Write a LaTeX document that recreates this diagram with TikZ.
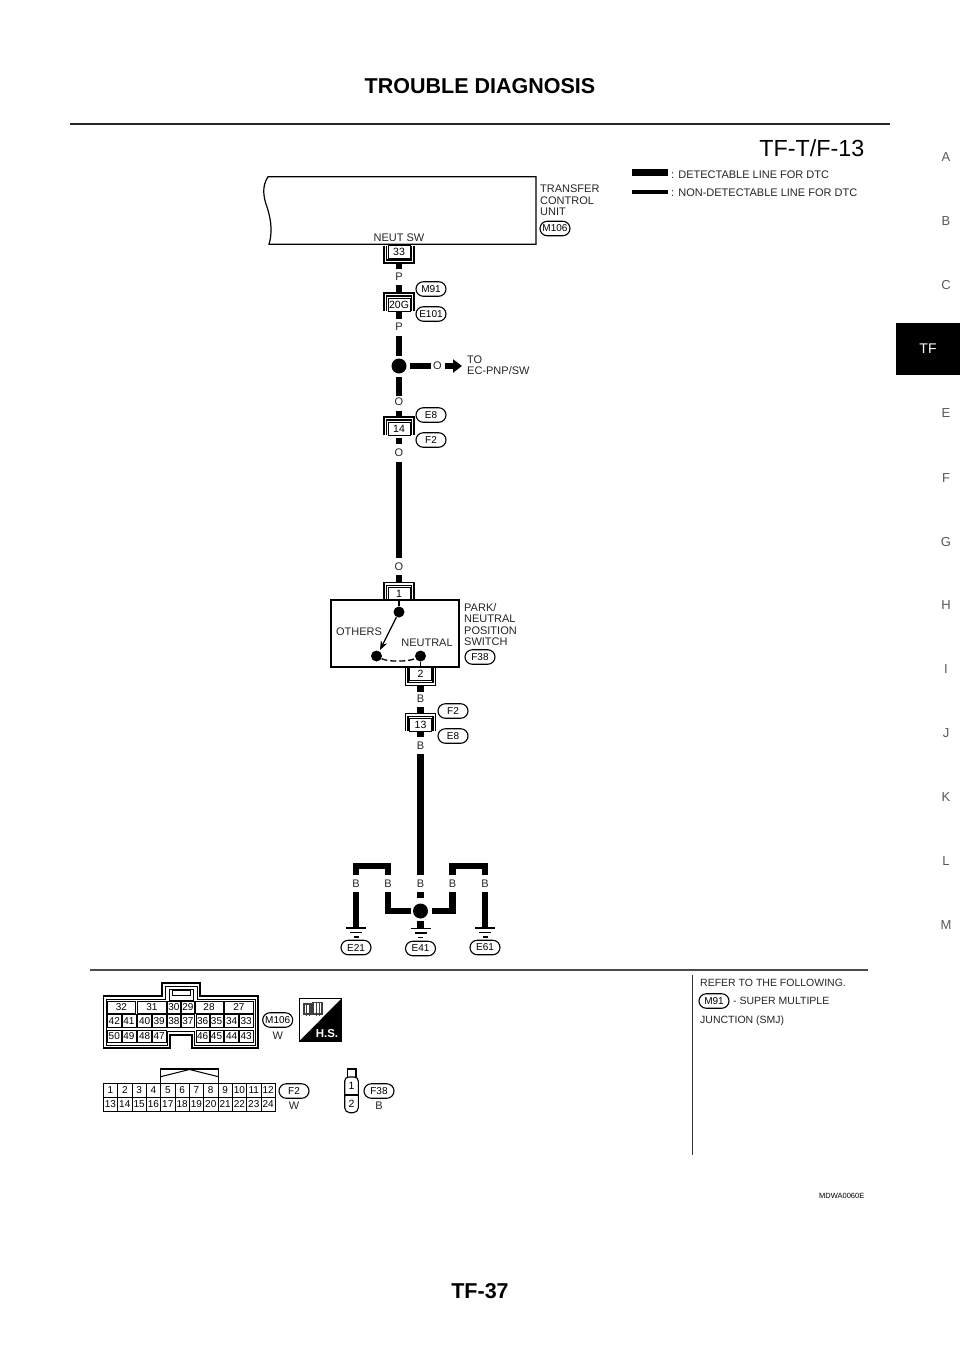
\documentclass[tikz,border=0pt]{standalone}
\usepackage{fontspec}
\setmainfont{Liberation Sans}
\usetikzlibrary{shapes.misc,arrows.meta,calc}
\tikzset{
  wire/.style={line width=6.5pt,line cap=butt,line join=miter},
  lbl/.style={font=\fontsize{11}{12}\selectfont,inner sep=0pt,text=black!85},
  ltxt/.style={lbl,anchor=west},
  pill/.style={rounded rectangle,draw,line width=1.1pt,minimum width=30pt,minimum height=14.5pt,inner sep=0pt,font=\fontsize{10}{11}\selectfont},
  cbox/.style={draw,line width=1pt,minimum width=22pt,minimum height=13pt,inner sep=0pt,font=\fontsize{10.5}{11}\selectfont},
  brk/.style={line width=1.1pt},
  dot/.style={circle,fill=black,inner sep=0pt,minimum size=#1},
  cell/.style={draw,line width=.8pt,inner sep=0pt,font=\fontsize{10}{11}\selectfont},
  tab/.style={font=\fontsize{13}{14}\selectfont,text=black!65,inner sep=0pt},
  gnd/.style={line width=1.3pt},
  rule/.style={line width=2pt,draw=black!70},
  note/.style={font=\fontsize{10.5}{12}\selectfont,anchor=west,inner sep=0pt,text=black!85}
}
% name, x, y, text: bracket opening upward (below the box)
\newcommand\connD[4]{%
  \node[cbox] (#1) at (#2,#3) {#4};
  \draw[brk] (#2-15,#3-6) -- (#2-15,#3+11.5) -- (#2+15,#3+11.5) -- (#2+15,#3-6);
  \draw[brk] (#2-12.5,#3-6) -- (#2-12.5,#3+8.5) -- (#2+12.5,#3+8.5) -- (#2+12.5,#3-6);
  \coordinate (#1b) at (#2,#3+11.5);
  \coordinate (#1t) at (#2,#3-6.5);}
% bracket on top of the box
\newcommand\connU[4]{%
  \node[cbox] (#1) at (#2,#3) {#4};
  \draw[brk] (#2-15,#3+6) -- (#2-15,#3-11.5) -- (#2+15,#3-11.5) -- (#2+15,#3+6);
  \draw[brk] (#2-12.5,#3+6) -- (#2-12.5,#3-8.5) -- (#2+12.5,#3-8.5) -- (#2+12.5,#3+6);
  \coordinate (#1t) at (#2,#3-11.5);
  \coordinate (#1b) at (#2,#3+6.5);}
% ground symbol below a named coordinate
\newcommand\groundat[1]{%
  \draw[gnd] ($(#1)+(-10,0)$) -- ($(#1)+(10,0)$);
  \draw[gnd] ($(#1)+(-6,4.5)$) -- ($(#1)+(6,4.5)$);
  \draw[gnd] ($(#1)+(-2.5,9)$) -- ($(#1)+(2.5,9)$);}
\newcommand\cellat[6]{% name x1 y1 x2 y2 text
  \pgfmathsetmacro\cw{#4-#2}\pgfmathsetmacro\ch{#5-#3}\pgfmathsetmacro\cx{(#2+#4)/2}\pgfmathsetmacro\cy{(#3+#5)/2}%
  \node[cell,minimum width=\cw pt,minimum height=\ch pt] (#1) at (\cx,\cy) {#6};}
\begin{document}
\begin{tikzpicture}[x=1pt,y=-1pt]
\useasboundingbox (0,0) rectangle (960,1358);
\fill[white] (0,0) rectangle (960,1358);
% header
\node[font=\fontsize{21.5}{24}\bfseries\selectfont,inner sep=0pt] (title) at (480,86) {TROUBLE DIAGNOSIS};
\coordinate (hl) at (70,124); \coordinate (hr) at (890,124);
\draw[line width=2.6pt,draw=black!85] (hl) -- (hr);
\node[font=\fontsize{23.3}{26}\selectfont,anchor=east,inner sep=0pt] (fig) at (864.5,148.5) {TF-T/F-13};
\node[font=\fontsize{21.5}{24}\bfseries\selectfont,inner sep=0pt] (page) at (480,1291) {TF-37};
\node[font=\fontsize{7.5}{9}\selectfont,anchor=east,inner sep=0pt] (code) at (864.5,1196) {MDWA0060E};
% side tabs
\node[tab] (tA) at (946,157) {A};
\node[tab] (tB) at (946,221) {B};
\node[tab] (tC) at (946,285) {C};
\fill[black] (896,323) rectangle (960,375);
\node[font=\fontsize{14}{15}\selectfont,text=white,inner sep=0pt] (tTF) at (928,349) {TF};
\node[tab] (tE) at (946,413) {E};
\node[tab] (tF) at (946,478) {F};
\node[tab] (tG) at (946,542) {G};
\node[tab] (tH) at (946,605) {H};
\node[tab] (tI) at (946,669) {I};
\node[tab] (tJ) at (946,733) {J};
\node[tab] (tK) at (946,797) {K};
\node[tab] (tL) at (946,861) {L};
\node[tab] (tM) at (946,925) {M};
% legend
\coordinate (la) at (632,172.5); \coordinate (lb) at (668,172.5);
\coordinate (lc) at (632,192); \coordinate (ld) at (668,192);
\draw[line width=6.5pt] (la) -- (lb);
\draw[line width=3.2pt] (lc) -- (ld);
\node[ltxt] (l1) at (671,174.5) {: DETECTABLE LINE FOR DTC};
\node[ltxt] (l2) at (671,192.5) {: NON-DETECTABLE LINE FOR DTC};
% TCU
\draw[line width=1.2pt] (536,176.7) -- (268,176.7) .. controls (262,186) and (263,196) .. (267,207) .. controls (272,222) and (272,234) .. (269,244.3) -- (536,244.3) -- cycle;
\node[ltxt] (t1) at (540,189) {TRANSFER};
\node[ltxt] (t2) at (540,200.5) {CONTROL};
\node[ltxt] (t3) at (540,212) {UNIT};
\node[pill] (pM106) at (555,228.5) {M106};
\node[lbl] (neut) at (399,237.5) {NEUT SW};
% connector 33
\connD{c33}{399}{251.5}{33}
\node[lbl] (lP1) at (399,277) {P};
\coordinate (a1) at (399,269);
\draw[wire] (c33b) -- (a1);
% 20G
\connU{c20}{399}{304.5}{20G}
\coordinate (a2) at (399,285);
\draw[wire] (a2) -- (c20t);
\node[pill] (pM91) at (431,289) {M91};
\node[pill] (pE101) at (431,314) {E101};
\coordinate (a3) at (399,319);
\draw[wire] (c20b) -- (a3);
\node[lbl] (lP2) at (399,327) {P};
% junction
\node[dot=15pt] (j1) at (399,366) {};
\coordinate (a4) at (399,336);
\coordinate (a5) at (399,356);
\draw[wire] (a4) -- (a5);
\coordinate (a6) at (399,377);
\coordinate (a7) at (399,396);
\draw[wire] (a6) -- (a7);
\coordinate (a8) at (410,366);
\coordinate (a9) at (431,366);
\draw[wire] (a8) -- (a9);
\node[lbl] (lO1) at (437.5,366) {O};
\coordinate (ar1) at (445,366);
\coordinate (ar2) at (462,366);
\draw[line width=5.5pt,-{Triangle[length=9pt,width=13pt]}] (ar1) -- (ar2);
\node[ltxt] (to1) at (467,360) {TO};
\node[ltxt] (to2) at (467,371) {EC-PNP/SW};
\node[lbl] (lO2) at (399,402) {O};
% 14
\connU{c14}{399}{428.5}{14}
\coordinate (a10) at (399,411);
\draw[wire] (a10) -- (c14t);
\node[pill] (pE8) at (431,415) {E8};
\node[pill] (pF2) at (431,440) {F2};
\coordinate (a11) at (399,444);
\draw[wire] ($(c14b)+(0,3)$) -- (a11);
\node[lbl] (lO3) at (399,453) {O};
\coordinate (a12) at (399,462);
\coordinate (a13) at (399,558);
\draw[wire] (a12) -- (a13);
\node[lbl] (lO4) at (399,567) {O};
% switch
\connU{c1}{399}{594}{1}
\coordinate (a14) at (399,575);
\draw[wire] (a14) -- (c1t);
\node[draw,line width=1.2pt,minimum width=128pt,minimum height=67pt,inner sep=0pt] (sw) at (395,633.5) {};
\node[dot=11pt] (s1) at (399,612) {};
\node[dot=11pt] (s2) at (376.5,656) {};
\node[dot=11pt] (s3) at (420.5,656) {};
\draw[line width=1.2pt] (sw.north -| s1) -- (s1);
\draw[line width=1.2pt] (s3) -- (s3 |- sw.south);
\draw[line width=1.2pt,-{Stealth[length=9pt,width=7pt]}] (s1) -- ($(s2)+(3.5,-6)$);
\draw[line width=1.3pt,dash pattern=on 6pt off 3pt] (s2) .. controls (388,662) and (408,662) .. (s3);
\node[lbl] (oth) at (359,632) {OTHERS};
\node[lbl] (neu) at (427,643) {NEUTRAL};
\node[ltxt] (p1) at (464,607.5) {PARK/};
\node[ltxt] (p2) at (464,619) {NEUTRAL};
\node[ltxt] (p3) at (464,630.5) {POSITION};
\node[ltxt] (p4) at (464,642) {SWITCH};
\node[pill] (pF38) at (480,657) {F38};
% 2
\connD{c2}{420.5}{674}{2}
\coordinate (b1) at (420.5,692);
\draw[wire] (c2b) -- (b1);
\node[lbl] (lB1) at (420.5,699) {B};
% 13
\connU{c13}{420.5}{725}{13}
\coordinate (b2) at (420.5,707);
\draw[wire] (b2) -- (c13t);
\node[pill] (pF2b) at (453,711) {F2};
\node[pill] (pE8b) at (453,736) {E8};
\coordinate (b3) at (420.5,737);
\draw[wire] (c13b) -- (b3);
\node[lbl] (lB2) at (420.5,746) {B};
\coordinate (b4) at (420.5,754);
\coordinate (b5) at (420.5,875);
\draw[wire] (b4) -- (b5);
% ground group
\node[lbl] (B1) at (356,884) {B};
\node[lbl] (B2) at (388,884) {B};
\node[lbl] (B3) at (420.5,884) {B};
\node[lbl] (B4) at (452.5,884) {B};
\node[lbl] (B5) at (485,884) {B};
\node[dot=15pt] (j2) at (420.5,911) {};
\coordinate (g1) at (356,928);
\coordinate (g2) at (420.5,928.5);
\coordinate (g3) at (485,928);
\coordinate (u1) at (356,875); \coordinate (u1b) at (356,892);
\coordinate (u2) at (388,875); \coordinate (u2b) at (388,892);
\coordinate (u3) at (452.5,875); \coordinate (u3b) at (452.5,892);
\coordinate (u4) at (485,875); \coordinate (u4b) at (485,892);
\coordinate (v1) at (356,866); \coordinate (v2) at (388,866);
\coordinate (v3) at (452.5,866); \coordinate (v4) at (485,866);
\draw[wire] (u1) -- (v1) -- (v2) -- (u2);
\draw[wire] (u3) -- (v3) -- (v4) -- (u4);
\draw[wire] (u1b) -- (g1);
\draw[wire] (u4b) -- (g3);
\draw[wire] (u2b) |- ($(j2)+(-10,0)$);
\draw[wire] (u3b) |- ($(j2)+(11,0)$);
\coordinate (m1) at (420.5,892);
\coordinate (m2) at (420.5,898);
\draw[wire] (m1) -- (m2);
\draw[wire] ($(j2)+(0,10)$) -- (g2);
\groundat{g1}\groundat{g2}\groundat{g3}
\node[pill] (pE21) at (356,947.5) {E21};
\node[pill] (pE41) at (420.5,948.5) {E41};
\node[pill] (pE61) at (485,947.5) {E61};
% separators
\coordinate (r1) at (90,969.5); \coordinate (r2) at (868,969.5);
\coordinate (r3) at (692.5,975); \coordinate (r4) at (692.5,1155);
\draw[rule] (r1) -- (r2);
\draw[line width=1.6pt,black!80] (r3) -- (r4);
% note
\node[note] (n1) at (700,983) {REFER TO THE FOLLOWING.};
\node[pill] (pM91b) at (714,1001) {M91};
\node[note] (n2) at (733,1001) {- SUPER MULTIPLE};
\node[note] (n3) at (700,1020.5) {JUNCTION (SMJ)};
% M106 connector
\draw[line width=1.1pt] (103.5,996) -- (162,996) -- (162,983) -- (200,983) -- (200,996) -- (258,996) -- (258,1048) -- (192,1048) -- (192,1035) -- (170,1035) -- (170,1048) -- (103.5,1048) -- cycle;
\draw[line width=.9pt] (106,999) -- (165,999) -- (165,986) -- (197,986) -- (197,999) -- (255,999) -- (255,1045) -- (194.5,1045) -- (194.5,1031) -- (167.5,1031) -- (167.5,1045) -- (106,1045) -- cycle;
\draw[line width=.9pt] (169,989) rectangle (193,1000);
\draw[line width=1pt] (172,990.5) rectangle (190,995);
\foreach \n/\a/\b in {32/107.3/135.7,31/137.7/166,30/167.3/180.7,29/181.7/194,28/195/223,27/224.7/253}
  {\cellat{m\n}{\a}{1001}{\b}{1013.5}{\n}}
\foreach \n/\a/\b in {42/107.3/121.3,41/122/136,40/137.7/151.7,39/152.3/166,38/167.3/180.7,37/181.7/194,36/196/209.3,35/210/223,34/224.7/238.7,33/239.3/253}
  {\cellat{m\n}{\a}{1014.5}{\b}{1027}{\n}}
\foreach \n/\a/\b in {50/107.3/121.3,49/122/136,48/137.7/151.7,47/152.3/166,46/196/209.3,45/210/223,44/224.7/238.7,43/239.3/253}
  {\cellat{m\n}{\a}{1030}{\b}{1042}{\n}}
\node[pill] (pM106b) at (277.7,1020) {M106};
\node[lbl] (wM) at (277.7,1036) {W};
% H.S.
\fill[black] (299.5,1041) -- (341.5,998.5) -- (341.5,1041) -- cycle;
\draw[line width=1.2pt] (299.5,998.5) rectangle (341.5,1041);
\node[font=\fontsize{11.5}{12}\bfseries\selectfont,text=white,inner sep=0pt] (hs) at (327,1034) {H.S.};
\draw[line width=1.6pt,black!75] (304,1004) rectangle (311,1014);
\draw[line width=1.6pt,black!75] (313,1002.5) rectangle (322,1014);
\draw[line width=1pt,black!75] (306,1004) -- (306,1016) (309,1004) -- (309,1016) (316,1003) -- (316,1016) (319,1003) -- (319,1016);
% F2 connector
\draw[line width=1.1pt] (160.7,1083) -- (160.7,1069) -- (218.3,1069) -- (218.3,1083);
\draw[line width=1pt] (160.7,1076.7) -- (189.5,1069.5) -- (218.3,1076.7);
\foreach \n [count=\i from 0] in {1,...,12}
  {\pgfmathsetmacro\xa{103.3+14.33*\i}\pgfmathsetmacro\xb{\xa+14.33}
   \cellat{f\n}{\xa}{1083.5}{\xb}{1097}{\n}}
\foreach \n [count=\i from 0] in {13,...,24}
  {\pgfmathsetmacro\xa{103.3+14.33*\i}\pgfmathsetmacro\xb{\xa+14.33}
   \cellat{f\n}{\xa}{1097}{\xb}{1111}{\n}}
\node[pill] (pF2c) at (294,1091) {F2};
\node[lbl] (wF) at (294,1106) {W};
% F38 connector
\draw[line width=1.1pt] (347.7,1077) -- (347.7,1069) -- (356,1069) -- (356,1077);
\draw[line width=1.1pt,rounded corners=4pt] (344.7,1095) -- (344.7,1077) -- (358.3,1077) -- (358.3,1095);
\draw[line width=1.1pt,rounded corners=5pt] (344.7,1095) -- (344.7,1112.7) -- (358.3,1112.7) -- (358.3,1095);
\draw[line width=1.1pt] (344.7,1095) -- (358.3,1095);
\node[font=\fontsize{10.5}{11}\selectfont,inner sep=0pt] (k1) at (351.5,1086) {1};
\node[font=\fontsize{10.5}{11}\selectfont,inner sep=0pt] (k2) at (351.5,1103.5) {2};
\node[pill] (pF38b) at (379,1091) {F38};
\node[lbl] (wB) at (379,1106) {B};
\end{tikzpicture}
\end{document}
